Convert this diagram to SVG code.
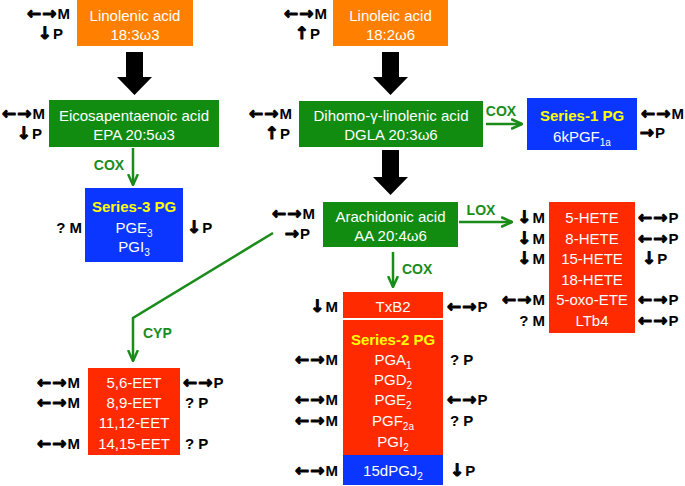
<svg xmlns="http://www.w3.org/2000/svg" width="685" height="486" viewBox="0 0 685 486">
<defs>
<style>
.bt{font-family:"Liberation Sans",Arial,sans-serif;font-size:15px;fill:#fff;text-anchor:middle}
.yt{font-family:"Liberation Sans",Arial,sans-serif;font-size:15px;font-weight:bold;fill:#ffff00;text-anchor:middle}
.mk{font-family:"Liberation Sans",Arial,sans-serif;font-size:15px;font-weight:bold;fill:#000}
.ar{font-family:"DejaVu Sans",sans-serif;font-size:17px;font-weight:bold;stroke:#000;stroke-width:1px;stroke-linejoin:round;letter-spacing:1px}
.en{font-family:"Liberation Sans",Arial,sans-serif;font-size:14px;font-weight:bold;fill:#1a8c1a}
.sub{font-size:10px}
.or{fill:#ff8000}
.gr{fill:#118c11}
.bl{fill:#0a36ff}
.rd{fill:#ff2a00}
.gl{fill:none;stroke:#1a8c1a;stroke-width:2.5}
.blk{fill:#000}
</style>
<marker id="ga" viewBox="0 0 12 12" markerUnits="userSpaceOnUse" markerWidth="12" markerHeight="12" refX="11" refY="6" orient="auto">
<path d="M1,1.5 L11,6 L1,10.5" fill="none" stroke="#1a8c1a" stroke-width="2.5" stroke-linecap="round" stroke-linejoin="round"/>
</marker>
</defs>
<rect width="685" height="486" fill="#fff"/>

<g id="connectors">
<polygon class="blk" points="126,52 143,52 143,77 152,77 134.5,95 117,77 126,77"/>
<polygon class="blk" points="382,52 399,52 399,77 408,77 390.5,95 373,77 382,77"/>
<polygon class="blk" points="382,150 399,150 399,177 408,177 390.5,195 373,177 382,177"/>
<line class="gl" x1="133" y1="148" x2="133" y2="185" marker-end="url(#ga)"/>
<text class="en" x="109" y="170" text-anchor="middle">COX</text>
<line class="gl" x1="486" y1="124" x2="522" y2="124" marker-end="url(#ga)"/>
<text class="en" x="501" y="116" text-anchor="middle">COX</text>
<line class="gl" x1="459" y1="222" x2="512" y2="222" marker-end="url(#ga)"/>
<text class="en" x="481" y="215" text-anchor="middle">LOX</text>
<line class="gl" x1="393" y1="252" x2="393" y2="287" marker-end="url(#ga)"/>
<text class="en" x="402" y="274">COX</text>
<polyline class="gl" points="273,233 133,318 133,361" marker-end="url(#ga)"/>
<text class="en" x="143" y="338">CYP</text>
</g>

<g id="linolenic">
<rect class="or" x="77" y="0" width="116" height="46"/>
<text class="bt" x="135" y="21">Linolenic acid</text>
<text class="bt" x="135" y="40">18:3ω3</text>
<text class="mk" x="70" y="19" text-anchor="end"><tspan class="ar">←→</tspan>M</text>
<text class="mk" x="63" y="39" text-anchor="end"><tspan class="ar">↓</tspan>P</text>
</g>

<g id="linoleic">
<rect class="or" x="333" y="0" width="115" height="46"/>
<text class="bt" x="390.5" y="21">Linoleic acid</text>
<text class="bt" x="390.5" y="40">18:2ω6</text>
<text class="mk" x="327" y="19" text-anchor="end"><tspan class="ar">←→</tspan>M</text>
<text class="mk" x="320" y="39" text-anchor="end"><tspan class="ar">↑</tspan>P</text>
</g>

<g id="epa">
<rect class="gr" x="49" y="100" width="170" height="47"/>
<text class="bt" x="134" y="121">Eicosapentaenoic acid</text>
<text class="bt" x="134" y="140">EPA 20:5ω3</text>
<text class="mk" x="45" y="119" text-anchor="end"><tspan class="ar">←→</tspan>M</text>
<text class="mk" x="42" y="139" text-anchor="end"><tspan class="ar">↓</tspan>P</text>
</g>

<g id="dgla">
<rect class="gr" x="299" y="101" width="184" height="46"/>
<text class="bt" x="391" y="121">Dihomo-γ-linolenic acid</text>
<text class="bt" x="391" y="140">DGLA 20:3ω6</text>
<text class="mk" x="292" y="119" text-anchor="end"><tspan class="ar">←→</tspan>M</text>
<text class="mk" x="290" y="139" text-anchor="end"><tspan class="ar">↑</tspan>P</text>
</g>

<g id="series1">
<rect class="bl" x="527" y="98" width="110" height="52"/>
<text class="yt" x="582" y="121">Series-1 PG</text>
<text class="bt" x="582" y="142">6kPGF<tspan class="sub" dy="4">1a</tspan></text>
<text class="mk" x="684" y="119" text-anchor="end"><tspan class="ar">←→</tspan>M</text>
<text class="mk" x="665" y="138" text-anchor="end"><tspan class="ar">→</tspan>P</text>
</g>

<g id="series3">
<rect class="bl" x="85" y="188" width="98" height="74"/>
<text class="yt" x="134" y="212">Series-3 PG</text>
<text class="bt" x="134" y="233">PGE<tspan class="sub" dy="4">3</tspan></text>
<text class="bt" x="134" y="252">PGI<tspan class="sub" dy="4">3</tspan></text>
<text class="mk" x="82" y="233" text-anchor="end">? M</text>
<text class="mk" x="187" y="233"><tspan class="ar">↓</tspan>P</text>
</g>

<g id="aa">
<rect class="gr" x="323" y="202" width="135" height="45"/>
<text class="bt" x="390.5" y="222">Arachidonic acid</text>
<text class="bt" x="390.5" y="241">AA 20:4ω6</text>
<text class="mk" x="315" y="219" text-anchor="end"><tspan class="ar">←→</tspan>M</text>
<text class="mk" x="310" y="239" text-anchor="end"><tspan class="ar">→</tspan>P</text>
</g>

<g id="hete">
<rect class="rd" x="549" y="202" width="86" height="131"/>
<text class="bt" x="592" y="223">5-HETE</text>
<text class="bt" x="592" y="243.5">8-HETE</text>
<text class="bt" x="592" y="264">15-HETE</text>
<text class="bt" x="592" y="284.5">18-HETE</text>
<text class="bt" x="592" y="305">5-oxo-ETE</text>
<text class="bt" x="592" y="325.5">LTb4</text>
<text class="mk" x="545" y="223" text-anchor="end"><tspan class="ar">↓</tspan>M</text>
<text class="mk" x="545" y="243.5" text-anchor="end"><tspan class="ar">↓</tspan>M</text>
<text class="mk" x="545" y="264" text-anchor="end"><tspan class="ar">↓</tspan>M</text>
<text class="mk" x="545" y="305" text-anchor="end"><tspan class="ar">←→</tspan>M</text>
<text class="mk" x="545" y="325.5" text-anchor="end">? M</text>
<text class="mk" x="638" y="223"><tspan class="ar">←→</tspan>P</text>
<text class="mk" x="638" y="243.5"><tspan class="ar">←→</tspan>P</text>
<text class="mk" x="642" y="264"><tspan class="ar">↓</tspan>P</text>
<text class="mk" x="638" y="305"><tspan class="ar">←→</tspan>P</text>
<text class="mk" x="638" y="325.5"><tspan class="ar">←→</tspan>P</text>
</g>

<g id="eet">
<rect class="rd" x="88" y="368" width="92" height="87"/>
<text class="bt" x="134" y="388">5,6-EET</text>
<text class="bt" x="134" y="408">8,9-EET</text>
<text class="bt" x="134" y="428">11,12-EET</text>
<text class="bt" x="134" y="449">14,15-EET</text>
<text class="mk" x="80" y="388" text-anchor="end"><tspan class="ar">←→</tspan>M</text>
<text class="mk" x="80" y="408" text-anchor="end"><tspan class="ar">←→</tspan>M</text>
<text class="mk" x="80" y="449" text-anchor="end"><tspan class="ar">←→</tspan>M</text>
<text class="mk" x="183" y="388"><tspan class="ar">←→</tspan>P</text>
<text class="mk" x="185" y="408">? P</text>
<text class="mk" x="185" y="449">? P</text>
</g>

<g id="txb2">
<rect class="rd" x="343" y="292" width="100" height="26"/>
<text class="bt" x="393" y="312">TxB2</text>
<text class="mk" x="338" y="312" text-anchor="end"><tspan class="ar">↓</tspan>M</text>
<text class="mk" x="447" y="312"><tspan class="ar">←→</tspan>P</text>
</g>

<g id="series2">
<rect class="rd" x="343" y="320" width="100" height="135"/>
<text class="yt" x="393" y="345">Series-2 PG</text>
<text class="bt" x="393" y="365">PGA<tspan class="sub" dy="4">1</tspan></text>
<text class="bt" x="393" y="385">PGD<tspan class="sub" dy="4">2</tspan></text>
<text class="bt" x="393" y="405">PGE<tspan class="sub" dy="4">2</tspan></text>
<text class="bt" x="393" y="426">PGF<tspan class="sub" dy="4">2a</tspan></text>
<text class="bt" x="393" y="447">PGI<tspan class="sub" dy="4">2</tspan></text>
<text class="mk" x="338" y="365" text-anchor="end"><tspan class="ar">←→</tspan>M</text>
<text class="mk" x="338" y="405" text-anchor="end"><tspan class="ar">←→</tspan>M</text>
<text class="mk" x="338" y="426" text-anchor="end"><tspan class="ar">←→</tspan>M</text>
<text class="mk" x="450" y="365">? P</text>
<text class="mk" x="447" y="405"><tspan class="ar">←→</tspan>P</text>
<text class="mk" x="450" y="426">? P</text>
</g>

<g id="pgj2">
<rect class="bl" x="343" y="455" width="100" height="30"/>
<text class="bt" x="393" y="476">15dPGJ<tspan class="sub" dy="4">2</tspan></text>
<text class="mk" x="338" y="476" text-anchor="end"><tspan class="ar">←→</tspan>M</text>
<text class="mk" x="450" y="476"><tspan class="ar">↓</tspan>P</text>
</g>
</svg>
